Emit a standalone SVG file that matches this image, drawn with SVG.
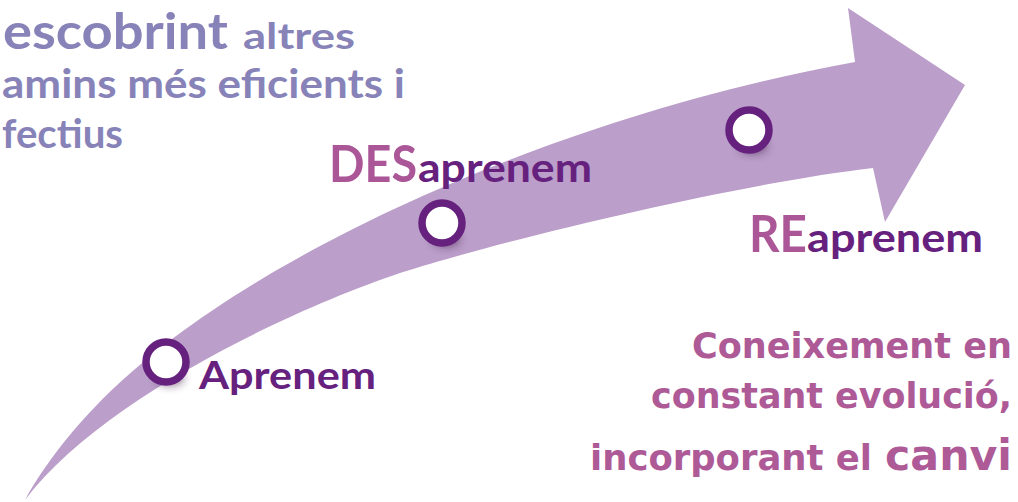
<svg xmlns="http://www.w3.org/2000/svg" width="1018" height="502" viewBox="0 0 1018 502">
  <style>
    .top { font-family: Lato, "Liberation Sans", sans-serif; font-weight: 700; fill: #8783b9; }
    .lbl { font-family: Lato, "Liberation Sans", sans-serif; font-weight: 700; }
    .pre { fill: #ab5697; }
    .dk { fill: #66217e; }
    .body { font-family: "DejaVu Sans", "Liberation Sans", sans-serif; font-weight: 700; fill: #ad5a97; }
    .ring { fill: #ffffff; stroke: #66217e; stroke-width: 7.5; }
    .shadow { fill: #3d1f45; opacity: 0.55; filter: url(#blur); }
  </style>
  <defs>
    <filter id="blur" x="-50%" y="-50%" width="200%" height="200%">
      <feGaussianBlur stdDeviation="4"/>
    </filter>
  </defs>
  <rect width="1018" height="502" fill="#ffffff"/>

  <g id="arrow">
    <path d="M25,500 C70,420 150,340 300,257 C420,190 620,105 855,62 L848,8 L965,85 L885,222 L873,168 C750,182 520,235 400,273 C290,310 100,400 25,500 Z" fill="#bb9ec9"/>
  </g>

  <g id="top-text" class="top">
    <text x="3" y="49" font-size="49" textLength="225" lengthAdjust="spacingAndGlyphs">escobrint</text>
    <text x="243" y="49" font-size="36" textLength="112" lengthAdjust="spacingAndGlyphs">altres</text>
    <text x="2" y="98" font-size="40" textLength="403" lengthAdjust="spacingAndGlyphs">amins més eficients i</text>
    <text x="2" y="148" font-size="40" textLength="121" lengthAdjust="spacingAndGlyphs">fectius</text>
  </g>

  <g id="node-aprenem">
    <ellipse class="shadow" cx="170" cy="378" rx="14" ry="8"/>
    <circle class="ring" cx="166" cy="362" r="20"/>
    <text class="lbl dk" x="199" y="389" font-size="39" textLength="177" lengthAdjust="spacingAndGlyphs">Aprenem</text>
  </g>

  <g id="node-desaprenem">
    <ellipse class="shadow" cx="446" cy="239" rx="14" ry="8"/>
    <circle class="ring" cx="442" cy="223" r="20"/>
    <text class="lbl" y="182"><tspan class="pre" x="329" font-size="52" textLength="88" lengthAdjust="spacingAndGlyphs">DES</tspan><tspan class="dk" x="418" font-size="40" textLength="174" lengthAdjust="spacingAndGlyphs">aprenem</tspan></text>
  </g>

  <g id="node-reaprenem">
    <ellipse class="shadow" cx="753" cy="146" rx="14" ry="8"/>
    <circle class="ring" cx="749" cy="130" r="20"/>
    <text class="lbl" y="252"><tspan class="pre" x="749" font-size="52" textLength="58" lengthAdjust="spacingAndGlyphs">RE</tspan><tspan class="dk" x="807" font-size="40" textLength="176" lengthAdjust="spacingAndGlyphs">aprenem</tspan></text>
  </g>

  <g id="body-text" class="body">
    <text x="692" y="358" font-size="35" textLength="320" lengthAdjust="spacingAndGlyphs">Coneixement en</text>
    <text x="651" y="408" font-size="35" textLength="361" lengthAdjust="spacingAndGlyphs">constant evolució,</text>
    <text y="470"><tspan x="590" font-size="35" textLength="282" lengthAdjust="spacingAndGlyphs">incorporant el</tspan><tspan x="885" font-size="43" textLength="127" lengthAdjust="spacingAndGlyphs">canvi</tspan></text>
  </g>
</svg>
